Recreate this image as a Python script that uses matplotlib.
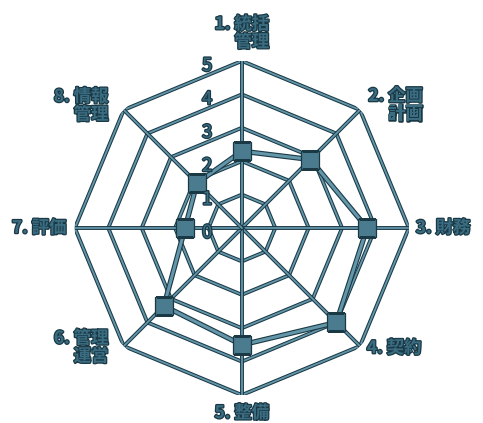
import numpy as np
import matplotlib
matplotlib.use("Agg")
import matplotlib.pyplot as plt
import matplotlib.patheffects as pe

plt.rcParams['font.family'] = ['Noto Sans CJK JP', 'DejaVu Sans']

categories = ["1. 統括\n管理", "2. 企画\n計画", "3. 財務", "4. 契約",
              "5. 整備", "6. 管理\n運営", "7. 評価", "8. 情報\n管理"]
values = [2.3, 2.9, 3.75, 4.0, 3.5, 3.3, 1.7, 1.9]
ring_levels = [1, 2, 3, 4, 5]
scale_labels = ["0", "1", "2", "3", "4", "5"]

LINE = '#6496aa'
DARK = '#1a3945'
TXT = '#3b6d82'

fig = plt.figure(figsize=(4.83, 4.23), dpi=100)
ax = fig.add_axes([0.155, 0.066, 0.6915, 0.79], projection='polar')
ax.set_theta_offset(np.pi / 2)
ax.set_theta_direction(-1)
ax.set_ylim(0, 5)
ax.axis('off')

n = len(categories)
theta = np.arange(n) * 2 * np.pi / n
theta_closed = np.append(theta, theta[0])

grid_pe = [pe.Stroke(linewidth=2.8, foreground=DARK), pe.Normal()]
for lev in ring_levels:
    ax.plot(theta_closed, [lev] * (n + 1), color=LINE, lw=1.3,
            path_effects=grid_pe, zorder=2)
for t in theta:
    ax.plot([t, t], [0, ring_levels[-1]], color=LINE, lw=1.3,
            path_effects=grid_pe, zorder=2)

vals_closed = values + values[:1]
ax.plot(theta_closed, vals_closed, color=LINE, lw=2.2,
        path_effects=[pe.Stroke(linewidth=3.8, foreground=DARK), pe.Normal()],
        zorder=3)
ax.plot(theta, values, linestyle='none', marker='s', markersize=13.5,
        markerfacecolor='#4a7b8e', markeredgecolor=DARK, markeredgewidth=0.9,
        zorder=4)

txt_pe = [pe.withStroke(linewidth=1.8, foreground=DARK)]

for i, lab in enumerate(scale_labels):
    ax.annotate(lab, xy=(0, i), xytext=(-25, -3.5), textcoords='offset points',
                ha='center', va='center', fontsize=13, color=TXT,
                path_effects=txt_pe, zorder=5)

offsets = [(0, 20, 'center'), (6, 3.5, 'left'), (5, 0, 'left'), (5, -1.5, 'left'),
           (0, -13, 'center'), (-11, -1, 'right'), (-6, 0, 'right'), (-11, 3, 'right')]
for t, lab, (dx, dy, ha) in zip(theta, categories, offsets):
    ax.annotate(lab, xy=(t, ring_levels[-1]), xytext=(dx, dy), textcoords='offset points',
                ha=ha, va='center', multialignment='right', fontsize=12.5,
                fontweight='bold', color=TXT, linespacing=1.0,
                path_effects=txt_pe, zorder=5, annotation_clip=False)

fig.savefig('out.png', dpi=100)
